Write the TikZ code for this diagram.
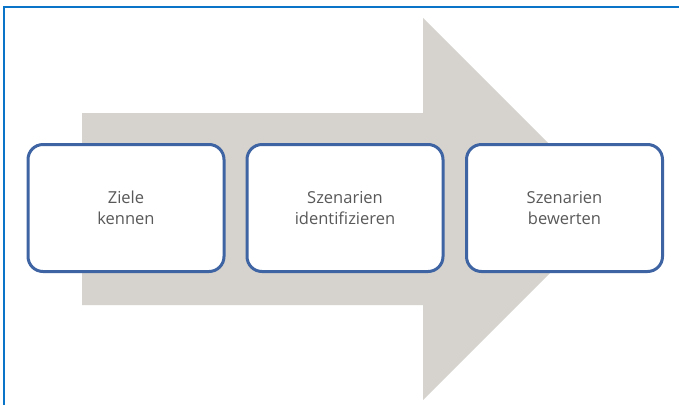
\documentclass[tikz,border=0pt]{standalone}
\usepackage{fontspec}
\setmainfont{Open Sans}
\definecolor{arrowgray}{HTML}{D6D2CD}
\definecolor{boxblue}{HTML}{3F64A4}
\definecolor{textgray}{HTML}{595959}
\definecolor{frameblue}{HTML}{0A74C8}
\begin{document}
\begin{tikzpicture}[x=1pt,y=-1pt,
  stepbox/.style={draw=boxblue, line width=3pt, fill=white, rounded corners=15pt,
    minimum width=196pt, minimum height=127pt, align=center, text=textgray,
    font=\fontsize{16.5}{20.5}\selectfont, inner sep=0pt}]
\useasboundingbox (0,0) rectangle (679,405);
\fill[white] (0,0) rectangle (679,405);
% frame lines
\draw[frameblue, line width=2pt] (3.5,405) -- (3.5,6.5) -- (679,6.5);
% big arrow
\fill[arrowgray] (82,113) -- (423,113) -- (423,18) -- (614,209) -- (423,400) -- (423,305) -- (82,305) -- cycle;
% boxes
\node[stepbox] (a) at (126,208) {Ziele\\kennen};
\node[stepbox] (b) at (345,208) {Szenarien\\identifizieren};
\node[stepbox] (c) at (564.5,208) {Szenarien\\bewerten};
\end{tikzpicture}
\end{document}
